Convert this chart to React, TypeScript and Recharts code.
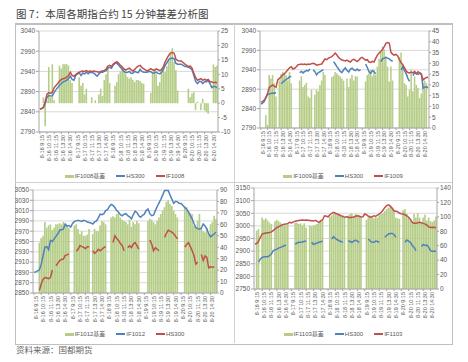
import { Bar, CartesianGrid, ComposedChart, Legend, Line, XAxis, YAxis } from 'recharts';

const DAYS = ['8-16', '8-17', '8-18', '8-19', '8-20'];
const TIMES = [
  '9:15', '9:30', '9:45', '10:00', '10:15', '10:30', '10:45', '11:00', '11:15', '11:30',
  '13:00', '13:15', '13:30', '13:45', '14:00', '14:15', '14:30', '14:45', '15:00', '15:15'
];
const CATEGORIES = DAYS.flatMap((d) => TIMES.map((t) => `${d} ${t}`));

// IF1008
const IF1008_BASIS = [
  null, null, 2, -8, 1, 12.5, 2, 13.5, 1, null, null, 13, 12, 13.5, 13.5, 13.5, 13, 8, 7, null,
  null, null, 9, 6, 7, 3, 5, null, null, 2, null, 1, null, 3, 5, 2.5, 8, 10, 12, 7,
  null, null, 6, 7.3, 10, 11, 13, 12, 10, 9, 8.5, 9, 8, 7.3, 8, 8, 7.7, 7, 6.7, null,
  null, null, 3.5, 10.8, 12, 10, 6, 7.3, 11.4, 12.6, 10.8, 12.8, 15, 17, 19, 14.3, 11.4, 4.4, null, null,
  null, null, null, 5, 2, 3.3, 3.8, -2.5, 0.5, null, -2.5, 1.5, -2.5, -3, -3.7, null, null, 13.4, 12.5, 13
];
const IF1008_HS300 = [
  2847, 2848, 2850, 2862, 2876, 2880, 2879, 2880, 2888, 2895,
  2900, 2906, 2910, 2914, 2916, 2918, 2922, 2928, 2920, 2918,
  2930, 2934, 2936, 2930, 2936, 2934, 2938, 2934, 2938, 2937,
  2936, 2932, 2928, 2934, 2938, 2938, 2940, 2942, 2948, 2950,
  2948, 2956, 2960, 2960, 2955, 2950, 2945, 2940, 2937, 2938,
  2940, 2935, 2936, 2940, 2938, 2937, 2945, 2940, 2938, 2938,
  2938, 2940, 2939, 2936, 2936, 2938, 2935, 2934, 2938, 2945,
  2955, 2962, 2970, 2972, 2973, 2971, 2960, 2958, 2958, 2958,
  2955, 2952, 2952, 2950, 2948, 2944, 2930, 2915, 2910, 2915,
  2915, 2910, 2915, 2914, 2918, 2910, 2900, 2903, 2902, 2900
];
const IF1008 = [
  2847, 2848, 2852, 2866, 2884, 2887, 2886, 2889, 2900, 2905,
  2910, 2916, 2920, 2922, 2923, 2926, 2930, 2938, 2930, 2928,
  2932, 2936, 2938, 2940, 2941, 2940, 2942, 2939, 2941, 2940,
  2941, 2940, 2939, 2938, 2940, 2941, 2942, 2946, 2953, 2955,
  2952, 2958, 2962, 2964, 2960, 2955, 2951, 2946, 2943, 2946,
  2948, 2944, 2941, 2945, 2950, 2953, 2955, 2950, 2946, 2944,
  2941, 2944, 2947, 2944, 2942, 2946, 2944, 2942, 2945, 2952,
  2964, 2972, 2980, 2986, 2987, 2985, 2970, 2967, 2966, 2966,
  2962, 2958, 2955, 2952, 2953, 2948, 2935, 2925, 2918, 2920,
  2922, 2918, 2921, 2918, 2920, 2915, 2914, 2912, 2913, 2912
];

// IF1009
const IF1009_BASIS = [
  null, null, null, 6, 1.5, 24.6, 23, 24.6, 20.8, 14.6, null, 22, 25, 26, 25.4, 24.6, 22, 26, 20.8, null,
  null, null, null, 22, 24, 19, 20, 21, 14.6, 13.9, 17.7, null, 15.4, 17.7, 17, 20, 22, 26, 24.6, null,
  null, null, 23.6, 24.2, 26, 25.4, 24.6, 23.9, 23, 22, null, 23, 19, 23, 24.6, 22, 24, 23.9, null, null,
  null, null, 21.6, 24.6, 25.4, 27, 24, 27, 24.6, 28.5, 32, 35.4, 37.7, 36.5, 33, 28.5, 21.6, 28.5, 22, null,
  null, null, 33, 35, 29, 20.8, 20, 14.6, 17.7, 27, 17, 23.9, 20, 18.5, 13.9, 16, 20.8, 22, 20.8, null
];
const IF1009_HS300 = [
  2852, 2854, 2858, 2870, 2876, 2878, 2879, 2880, 2879, 2882,
  null, null, 2904, 2908, 2912, 2915, 2918, 2922, 2923, null,
  null, null, null, 2933, 2936, 2932, 2936, 2938, 2937, 2942,
  null, 2940, 2935, 2927, 2933, 2935, 2938, 2940, null, null,
  null, null, null, 2961, 2955, 2948, 2942, 2936, 2933, 2940,
  2945, 2938, 2934, 2942, 2944, 2940, 2938, 2942, 2938, 2940,
  null, null, 2955, 2946, 2935, 2931, 2938, 2935, 2930, null,
  null, 2961, 2968, 2970, 2972, 2970, 2968, 2964, 2962, null,
  null, null, null, 2940, 2948, 2938, 2930, 2918, 2910, null,
  2925, 2932, 2930, 2928, 2932, 2930, 2893, 2895, 2896, 2894
];
const IF1009 = [
  2857, 2858, 2862, 2867, 2880, 2895, 2898, 2901, 2897, 2895,
  2914, 2918, 2922, 2927, 2930, 2935, 2940, 2945, 2948, 2942,
  2944, 2948, 2953, 2954, 2955, 2954, 2955, 2953, 2955, 2954,
  2956, 2957, 2955, 2952, 2953, 2954, 2955, 2962, 2968, 2966,
  2970, 2972, 2974, 2978, 2983, 2978, 2972, 2968, 2965, 2964,
  2963, 2965, 2962, 2960, 2965, 2967, 2964, 2961, 2965, 2970,
  2972, 2968, 2965, 2966, 2960, 2959, 2962, 2960, 2970, 2978,
  2983, 2988, 2992, 3000, 3008, 3010, 3009, 2985, 2980, 2978,
  2980, 2976, 2966, 2958, 2953, 2945, 2937, 2933, 2932, 2934,
  2932, 2936, 2930, 2935, 2932, 2927, 2914, 2918, 2920, 2921
];

// IF1012
const IF1012_BASIS = [
  null, null, null, 44, 48, 50, 62, 57, 59, 60, 55, 57, 60, 60, 61, 60, 62, 60, 58, 57,
  null, null, 59, 60, 56, 51.5, 54, 50, 50, 51, 56, null, 51.5, 56, 54, 54, 59, 63, 62, 60,
  null, null, 66, 67, 66, 69, 70, 66, 64, 63, 62, 60, 64, 58, 62, 60, 63, 61, null, null,
  null, null, 63, 65, 64, 62, 60, 63, 66, 69, 72, 75, 79.6, 81, 78, 76, 72, 69, 66, null,
  null, null, 76, 75, 72, 70, 69, 59, 57, 63, 69, 57, 54, 53, 57, 51.5, 60, 62, 67.6, 64.7
];
const IF1012 = [
  2890, 2891, 2893, 2895, 2906, 2923, 2939, 2940, 2934, 2952,
  2950, 2955, 2960, 2965, 2972, 2973, 2974, 2984, 2980, 2981,
  2978, 2985, 2989, 2990, 2991, 2990, 2989, 2991, 2990, 2988,
  2987, 2986, 2984, 2988, 2990, 2996, 3003, 3002, 3004, 3010,
  3012, 3018, 3022, 3020, 3016, 3010, 3007, 3002, 3000, 3003,
  3004, 3000, 2998, 2994, 3002, 3009, 3006, 3000, 2997, 3001,
  3003, 3010, 3013, 3004, 3000, 3001, 3010, 3018, 3025, 3032,
  3040, 3049, 3049, 3049, 3040, 3032, 3024, 3028, 3027, 3024,
  3024, 3020, 3016, 3013, 3007, 3000, 2994, 2985, 2977, 2975,
  2974, 2976, 2984, 2980, 2974, 2965, 2959, 2962, 2965, 2968
];
const IF1012_HS300 = [
  null, null, null, 2855, 2868, 2877, 2880, 2879, 2878, 2880,
  2895, null, 2903, 2908, 2913, 2915, 2916, 2923, 2924, 2926,
  null, null, null, 2931, 2935, 2942, 2940, 2939, 2936, 2940,
  2940, null, 2932, 2927, 2930, 2935, 2932, 2935, 2938, 2940,
  null, null, null, 2948, 2961, 2956, 2952, 2946, 2942, 2932,
  null, 2938, 2942, 2938, 2945, 2948, 2942, 2935, null, null,
  null, null, null, 2953, 2945, 2932, 2938, 2935, 2932, null,
  null, 2958, 2966, 2972, 2970, 2968, 2965, 2960, 2955, null,
  null, null, 2939, 2944, 2948, 2940, 2932, 2923, 2906, 2910,
  null, 2925, 2913, 2922, 2919, 2899, 2901, 2900, 2901, null
];

// IF1103
const IF1103_BASIS = [
  null, 81, 83, null, 99, 96, 98, 95, 92, 90, null, 94, 96, 94, 92, 90, 89, 88, 91, null,
  null, null, 92, 92, 90, 91, 88, 91, 85, null, 88, 87, 88, 89, 90, 92, 96, 95, null, null,
  null, 100, 102, 104, 105, 103, 104, 102, 100, 99, null, 102, 104, 105, 100, 104, 103, 102, 99, null,
  null, 96, 99, 102, 100, 98, 100, 99, 102, 104, 105, 108, 111, 113, 115, 113, 109, 99, 98, 97,
  null, 109, 111, 104, 99, 95, 93, 104, 99, 105, 99, 92, 99, 103, 95, 99, 94, 93, 95, 100
];
const IF1103_HS300 = [
  null, null, 2856, 2869, 2875, 2878, 2878, 2878, 2882, 2889,
  2902, 2905, 2908, 2912, 2915, 2918, 2922, 2922, null, null,
  null, null, 2928, 2932, 2935, 2935, 2936, 2939, 2939, null,
  null, 2935, 2926, 2930, 2932, 2935, 2937, 2939, null, null,
  null, null, 2948, 2957, 2950, 2945, 2941, 2938, 2935, null,
  null, 2941, 2938, 2935, 2940, 2944, 2940, 2935, null, null,
  null, null, 2948, 2940, 2935, 2935, 2940, 2938, 2935, null,
  null, 2955, 2962, 2968, 2970, 2970, 2966, 2955, null, null,
  null, null, 2935, 2944, 2940, 2935, 2922, 2915, 2902, null,
  null, 2918, 2926, 2922, 2924, 2915, 2902, 2899, 2900, 2899
];
const IF1103 = [
  2928, 2930, 2939, 2955, 2968, 2970, 2972, 2973, 2974, 2976,
  2981, 2988, 2993, 2997, 3000, 3005, 3006, 3007, 3010, 3014,
  3012, 3016, 3018, 3020, 3021, 3022, 3023, 3022, 3023, 3022,
  3021, 3020, 3019, 3022, 3018, 3014, 3020, 3024, 3040, 3038,
  3036, 3044, 3050, 3054, 3050, 3047, 3044, 3040, 3038, 3034,
  3036, 3034, 3032, 3034, 3035, 3038, 3040, 3038, 3035, 3036,
  3047, 3044, 3038, 3034, 3036, 3040, 3038, 3043, 3047, 3054,
  3062, 3073, 3080, 3083, 3078, 3070, 3060, 3058, 3056, 3050,
  3048, 3047, 3044, 3040, 3034, 3025, 3014, 3010, 3010, 3012,
  3014, 3012, 3010, 3007, 3003, 2996, 2994, 2995, 2994, 2994
];

const TICKS_2790 = [2790, 2840, 2890, 2940, 2990, 3040];
const TICKS_2850 = [2850, 2870, 2890, 2910, 2930, 2950, 2970, 2990, 3010, 3030, 3050];
const TICKS_2750 = [2750, 2800, 2850, 2900, 2950, 3000, 3050, 3100, 3150];
const BASIS_TICKS_1 = [-10, -5, 0, 5, 10, 15, 20, 25];
const BASIS_TICKS_2 = [0, 5, 10, 15, 20, 25, 30, 35, 40, 45];
const BASIS_TICKS_3 = [0, 10, 20, 30, 40, 50, 60, 70, 80, 90];
const BASIS_TICKS_4 = [0, 20, 40, 60, 80, 100, 120, 140];

const GREEN = '#B5CD87';
const BLUE = '#4F81BD';
const RED = '#C0504D';
const AXIS = '#A6A6A6';
const TICK = { fontSize: 6.5, fill: '#595959' };

type Series = (number | null)[];

interface LegendItem {
  value: string;
  color: string;
  type: string;
}

function makeLegend(names: string[]) {
  return function LegendContent({ payload }: { payload?: LegendItem[] }) {
    const items = [...(payload ?? [])].sort(
      (a, b) => names.indexOf(a.value) - names.indexOf(b.value)
    );
    return (
      <div
        style={{
          display: 'flex',
          justifyContent: 'center',
          alignItems: 'center',
          gap: 11,
          fontSize: 6,
          color: '#595959',
          lineHeight: '8px'
        }}
      >
        {items.map((item) => (
          <span key={item.value} style={{ display: 'flex', alignItems: 'center' }}>
            <span
              style={{
                display: 'inline-block',
                width: 9,
                height: item.type === 'rect' ? 3 : 1.5,
                background: item.color,
                marginRight: 1
              }}
            />
            {item.value}
          </span>
        ))}
      </div>
    );
  };
}

interface PanelProps {
  left: number;
  top: number;
  width: number;
  height: number;
  margin: { top: number; right: number; bottom: number; left: number };
  leftWidth: number;
  rightWidth: number;
  leftTicks: number[];
  rightTicks: number[];
  basis: Series;
  blue: Series;
  red: Series;
  names: [string, string, string];
  legendTop: number;
}

function Panel(props: PanelProps) {
  const { basis, blue, red, names, leftTicks, rightTicks } = props;
  const data = CATEGORIES.map((cat, i) => ({
    cat,
    basis: basis[i],
    blue: blue[i],
    red: red[i]
  }));
  const LegendContent = makeLegend(names);

  return (
    <div style={{ position: 'absolute', left: props.left, top: props.top }}>
      <ComposedChart width={props.width} height={props.height} data={data} margin={props.margin}>
        <CartesianGrid yAxisId="left" vertical={false} stroke="#D9D9D9" />
        <XAxis
          dataKey="cat"
          interval={3}
          angle={-90}
          textAnchor="end"
          height={34}
          tick={{ fontSize: 5.5, fill: '#595959' }}
          tickSize={2}
          tickMargin={1}
          stroke={AXIS}
        />
        <YAxis
          yAxisId="left"
          width={props.leftWidth}
          domain={[leftTicks[0], leftTicks[leftTicks.length - 1]]}
          ticks={leftTicks}
          interval={0}
          tick={TICK}
          tickSize={3}
          tickMargin={1}
          stroke={AXIS}
        />
        <YAxis
          yAxisId="right"
          orientation="right"
          width={props.rightWidth}
          domain={[rightTicks[0], rightTicks[rightTicks.length - 1]]}
          ticks={rightTicks}
          interval={0}
          tick={TICK}
          tickSize={2}
          tickMargin={1}
          stroke={AXIS}
        />
        <Legend
          verticalAlign="middle"
          content={<LegendContent />}
          wrapperStyle={{ top: props.legendTop, left: 0, width: props.width }}
        />
        <Bar
          yAxisId="right"
          dataKey="basis"
          name={names[0]}
          fill={GREEN}
          barSize={2.5}
          legendType="rect"
          isAnimationActive={false}
        />
        <Line
          yAxisId="left"
          dataKey="blue"
          name={names[1]}
          stroke={BLUE}
          strokeWidth={1.5}
          dot={false}
          legendType="plainline"
          isAnimationActive={false}
        />
        <Line
          yAxisId="left"
          dataKey="red"
          name={names[2]}
          stroke={RED}
          strokeWidth={1.5}
          dot={false}
          legendType="plainline"
          isAnimationActive={false}
        />
      </ComposedChart>
    </div>
  );
}

export default function App() {
  return (
    <div
      style={{
        position: 'absolute',
        left: 0,
        top: 0,
        width: 468,
        height: 362,
        background: '#FFFFFF',
        fontFamily: 'Arial, "Liberation Sans", "Noto Sans CJK SC", sans-serif',
        overflow: 'hidden'
      }}
    >
      <div
        style={{
          position: 'absolute',
          left: 16,
          top: 6,
          fontSize: 10.5,
          color: '#404040',
          fontFamily: '"Noto Sans CJK SC", sans-serif',
          whiteSpace: 'nowrap'
        }}
      >
        图 7：本周各期指合约 15 分钟基差分析图
      </div>
      <div
        style={{
          position: 'absolute',
          left: 15,
          top: 23,
          width: 436,
          height: 319,
          borderTop: '2px solid #BFBFBF',
          borderLeft: '1px solid #BFBFBF',
          borderRight: '1px solid #BFBFBF',
          borderBottom: '1px solid #BFBFBF'
        }}
      />
      <div style={{ position: 'absolute', left: 234, top: 24, width: 1, height: 319, background: '#D0D0D0' }} />
      <div style={{ position: 'absolute', left: 15, top: 182, width: 437, height: 1, background: '#D0D0D0' }} />

      <Panel
        left={15}
        top={24}
        width={219}
        height={159}
        margin={{ top: 7, right: 0, bottom: 17, left: 0 }}
        leftWidth={24}
        rightWidth={16}
        leftTicks={TICKS_2790}
        rightTicks={BASIS_TICKS_1}
        basis={IF1008_BASIS}
        blue={IF1008_HS300}
        red={IF1008}
        names={['IF1008基差', 'HS300', 'IF1008']}
        legendTop={148}
      />
      <Panel
        left={234}
        top={24}
        width={218}
        height={159}
        margin={{ top: 7, right: 0, bottom: 21, left: 0 }}
        leftWidth={26}
        rightWidth={23}
        leftTicks={TICKS_2790}
        rightTicks={BASIS_TICKS_2}
        basis={IF1009_BASIS}
        blue={IF1009_HS300}
        red={IF1009}
        names={['IF1009基差', 'HS300', 'IF1009']}
        legendTop={148}
      />
      <Panel
        left={15}
        top={183}
        width={219}
        height={160}
        margin={{ top: 7, right: 0, bottom: 16, left: 0 }}
        leftWidth={18}
        rightWidth={17}
        leftTicks={TICKS_2850}
        rightTicks={BASIS_TICKS_3}
        basis={IF1012_BASIS}
        blue={IF1012}
        red={IF1012_HS300}
        names={['IF1012基差', 'IF1012', 'HS300']}
        legendTop={147}
      />
      <Panel
        left={234}
        top={183}
        width={218}
        height={160}
        margin={{ top: 5, right: 0, bottom: 20, left: 0 }}
        leftWidth={20}
        rightWidth={15}
        leftTicks={TICKS_2750}
        rightTicks={BASIS_TICKS_4}
        basis={IF1103_BASIS}
        blue={IF1103_HS300}
        red={IF1103}
        names={['IF1103基差', 'HS300', 'IF1103']}
        legendTop={147}
      />

      <div
        style={{
          position: 'absolute',
          left: 16,
          top: 343,
          fontSize: 8.5,
          color: '#666666',
          fontFamily: '"Noto Sans CJK SC", sans-serif',
          whiteSpace: 'nowrap'
        }}
      >
        资料来源：国都期货
      </div>
    </div>
  );
}
